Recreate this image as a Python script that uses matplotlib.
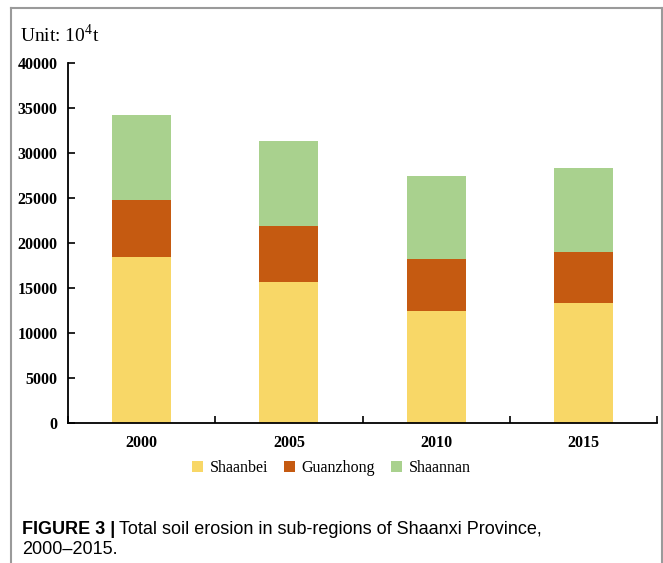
import matplotlib
matplotlib.use("Agg")
import matplotlib.pyplot as plt
import numpy as np
from matplotlib.lines import Line2D

years = ["2000", "2005", "2010", "2015"]
shaanbei = [18480, 15660, 12430, 13360]
guanzhong = [6310, 6200, 5790, 5680]
shaannan = [9460, 9530, 9240, 9280]

plt.rcParams['font.family'] = 'Liberation Serif'
plt.rcParams['mathtext.fontset'] = 'custom'
plt.rcParams['mathtext.rm'] = 'Liberation Serif'

fig = plt.figure(figsize=(6.63, 5.63), dpi=100)
ax = fig.add_axes([0.1026, 0.2492, 0.8884, 0.6384])

x = np.arange(len(years))
w = 0.4
b1 = np.array(shaanbei)
b2 = b1 + np.array(guanzhong)
ax.bar(x, shaanbei, w, color='#F8D767', label='Shaanbei')
ax.bar(x, guanzhong, w, bottom=b1, color='#C55A11', label='Guanzhong')
ax.bar(x, shaannan, w, bottom=b2, color='#A9D18E', label='Shaannan')

ax.set_xlim(-0.5, 3.5)
ax.set_ylim(0, 40000)
ax.set_yticks(range(0, 40001, 5000))
ax.set_xticks(x)
ax.set_xticklabels(years)
ax.set_xticks(np.arange(-0.5, 3.6, 1), minor=True)
ax.tick_params(axis='x', which='major', length=0, pad=9)
ax.tick_params(axis='x', which='minor', direction='in', length=5, width=1.2)
ax.tick_params(axis='y', direction='in', length=5, width=1.2, pad=7.5)
for lbl in ax.get_xticklabels() + ax.get_yticklabels():
    lbl.set_fontsize(11.5)
    lbl.set_fontweight('bold')
for s in ['top', 'right']:
    ax.spines[s].set_visible(False)
for s in ['left', 'bottom']:
    ax.spines[s].set_linewidth(1.3)

fig.legend(loc='center', bbox_to_anchor=(0.5, 1 - 468 / 563), ncol=3,
           frameon=False, fontsize=11.5, handlelength=0.65, handleheight=0.65,
           handletextpad=0.45, columnspacing=1.0)

fig.text(20 / 663, 1 - 35 / 563, r'Unit: 10$^{\mathrm{4}}$t', fontsize=14,
         va='center', ha='left')

# caption
cap_y = 1 - 530 / 563
t1 = fig.text(22 / 663, cap_y, 'FIGURE 3 |', family='Liberation Sans',
              fontweight='bold', fontsize=13, va='center', ha='left')
r = fig.canvas.get_renderer()
bb = t1.get_window_extent(renderer=r)
fig.text((bb.x1 + 4) / 663, cap_y, 'Total soil erosion in sub-regions of Shaanxi Province,',
         family='Liberation Sans', fontsize=13, va='center', ha='left')
fig.text(22 / 663, 1 - 549 / 563, '2000\u20132015.', family='Liberation Sans',
         fontsize=13, va='center', ha='left')

# outer frame
fc = '#9a9a9a'
fig.add_artist(Line2D([11 / 663, 661.5 / 663], [1 - 8 / 563, 1 - 8 / 563],
                      transform=fig.transFigure, color=fc, lw=1.5))
fig.add_artist(Line2D([11 / 663, 11 / 663], [0, 1 - 8 / 563],
                      transform=fig.transFigure, color=fc, lw=1.5))
fig.add_artist(Line2D([661.5 / 663, 661.5 / 663], [0, 1 - 8 / 563],
                      transform=fig.transFigure, color=fc, lw=1.5))

fig.savefig('out.png', dpi=100)
